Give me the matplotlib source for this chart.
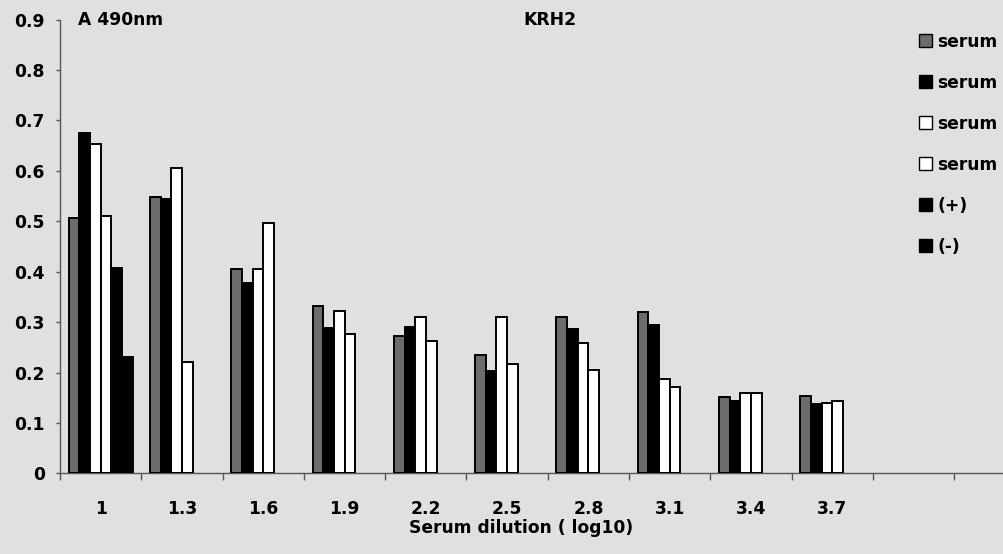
import numpy as np
import matplotlib
matplotlib.use("Agg")
import matplotlib.pyplot as plt
from matplotlib.patches import Patch

plt.rcParams['font.family'] = ['DejaVu Sans']
plt.rcParams['font.weight'] = 'bold'

# Serum dilution groups (log10); two trailing slots are left empty
dilutions = ["1", "1.3", "1.6", "1.9", "2.2", "2.5", "2.8", "3.1", "3.4", "3.7", "", ""]

series_names = ["serum", "serum", "serum", "serum", "(+)", "(-)"]
serum_1 = [0.507, 0.549, 0.405, 0.332, 0.272, 0.235, 0.311, 0.320, 0.152, 0.153]
serum_2 = [0.676, 0.545, 0.377, 0.288, 0.290, 0.202, 0.286, 0.294, 0.144, 0.138]
serum_3 = [0.653, 0.606, 0.405, 0.322, 0.310, 0.311, 0.259, 0.187, 0.160, 0.140]
serum_4 = [0.511, 0.221, 0.497, 0.276, 0.262, 0.216, 0.204, 0.172, 0.160, 0.143]
control_pos = [0.407]
control_neg = [0.231]

series_values = [serum_1, serum_2, serum_3, serum_4, control_pos, control_neg]
face_colors = ["#6c6c6c", "#000000", "#ffffff", "#ffffff", "#000000", "#000000"]

bg = "#e0e0e0"
W, H = 1004, 554
FS = 12.3
fig = plt.figure(figsize=(W / 100, H / 100), dpi=100, facecolor=bg)

n_slots = len(dilutions)
left_px, bottom_px, top_px = 60, 554 - 473.3, 19.7
slot_px = 81.3
ax = fig.add_axes([left_px / W, bottom_px / H,
                   n_slots * slot_px / W, (H - bottom_px - top_px) / H])
ax.set_facecolor(bg)

bar_w = 0.131
n_series = len(series_values)
for i, (vals, fc) in enumerate(zip(series_values, face_colors)):
    x = np.arange(len(vals)) + (i - (n_series - 1) / 2) * bar_w
    ax.bar(x, vals, width=bar_w, color=fc, edgecolor="black", linewidth=1.4,
           zorder=3)

ax.set_xlim(-0.5, n_slots - 0.5)
ax.set_ylim(0, 0.9)

# Category ticks sit on the group boundaries, labels centred in each group
ax.set_xticks(np.arange(n_slots + 1) - 0.5)
ax.set_xticklabels([])
ax.set_xticks(np.arange(n_slots), minor=True)
ax.set_xticklabels(dilutions, minor=True, fontsize=FS, fontweight="bold")
ax.tick_params(axis="x", which="minor", length=0, pad=19)
ax.tick_params(axis="x", which="major", length=5, width=1, color="#555555",
               direction="out")

ax.set_yticks(np.arange(0, 0.91, 0.1))
ax.set_yticklabels(["0"] + [f"{v:.1f}" for v in np.arange(0.1, 0.91, 0.1)],
                   fontsize=FS, fontweight="bold")
ax.tick_params(axis="y", length=3, width=1, color="#555555", pad=8)

for s in ("top", "right"):
    ax.spines[s].set_visible(False)
for s in ("left", "bottom"):
    ax.spines[s].set_color("#555555")
    ax.spines[s].set_linewidth(1.0)

ax.set_xlabel("Serum dilution ( log10)", fontsize=FS, fontweight="bold",
              va="center")
ax.xaxis.set_label_coords((521 - left_px) / (n_slots * slot_px),
                          -(528 - 473.3) / (473.3 - top_px))

fig.text(78 / W, 1 - 20 / H, "A 490nm", fontsize=FS, fontweight="bold",
         va="center", ha="left")
fig.text(550 / W, 1 - 20 / H, "KRH2", fontsize=FS, fontweight="bold",
         va="center", ha="center")

handles = [Patch(facecolor=fc, edgecolor="black", linewidth=1.0)
           for fc in face_colors]
leg = fig.legend(handles, series_names, loc="upper left",
                 bbox_to_anchor=(910 / W, 1 - 24 / H), frameon=False,
                 fontsize=FS, handlelength=0.8, handleheight=0.8,
                 handletextpad=0.3, labelspacing=1.35, borderpad=0)
for t in leg.get_texts():
    t.set_fontweight("bold")

fig.savefig("out.png", dpi=100, facecolor=bg)
